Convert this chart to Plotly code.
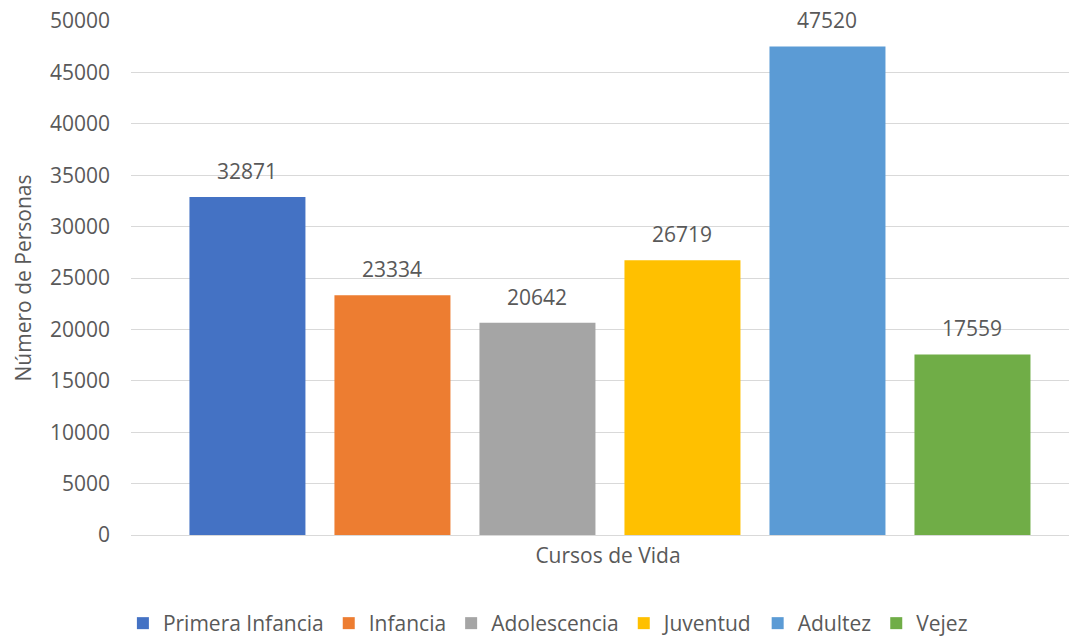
import plotly.graph_objects as go

categories = ["Primera Infancia", "Infancia", "Adolescencia", "Juventud", "Adultez", "Vejez"]
values = [32871, 23334, 20642, 26719, 47520, 17559]
colors = ["#4472C4", "#ED7D31", "#A5A5A5", "#FFC000", "#5B9BD5", "#70AD47"]
x_title = "Cursos de Vida"
y_title = "Número de Personas"
y_ticks = [0, 5000, 10000, 15000, 20000, 25000, 30000, 35000, 40000, 45000, 50000]

FONT = "Open Sans"
GREY = "#595959"
FS = 21

fig = go.Figure()
for name, val, col in zip(categories, values, colors):
    fig.add_trace(go.Bar(
        name=name, x=[name], y=[val],
        marker=dict(color=col, line=dict(width=0)),
        hovertemplate="%{x}: %{y}<extra></extra>",
    ))
    fig.add_annotation(x=name, y=val, text=str(val), showarrow=False,
                       yanchor="bottom", yshift=10,
                       font=dict(family=FONT, size=FS, color=GREY))

fig.update_layout(
    width=1077, height=636,
    margin=dict(l=123, r=0, t=13, b=108),
    paper_bgcolor="white", plot_bgcolor="white",
    barmode="overlay", bargap=0.2,
    font=dict(family=FONT, size=FS, color=GREY),
    showlegend=True,
    legend=dict(orientation="h", x=0.437, xanchor="center", y=-0.172, yanchor="middle",
                font=dict(family=FONT, size=FS, color=GREY), itemwidth=30,
                traceorder="normal"),
    xaxis=dict(type="category", categoryorder="array", categoryarray=categories,
               range=[-0.803, 5.776], showgrid=False, showline=True, linecolor="#d9d9d9",
               linewidth=1, automargin=False, showticklabels=False, ticks="",
               title=dict(text=x_title, standoff=13,
                          font=dict(family=FONT, size=FS, color=GREY))),
    yaxis=dict(range=[0, 50000], tickvals=y_ticks, ticktext=[str(t) for t in y_ticks],
               showgrid=True, gridcolor="#d9d9d9", gridwidth=1, zeroline=False,
               ticks="", ticklabelstandoff=20, automargin=False,
               ticklabeloverflow="allow",
               tickfont=dict(family=FONT, size=FS, color=GREY),
               title=dict(text=y_title, standoff=12,
                          font=dict(family=FONT, size=FS, color=GREY))),
)

fig.write_html("out.html")
